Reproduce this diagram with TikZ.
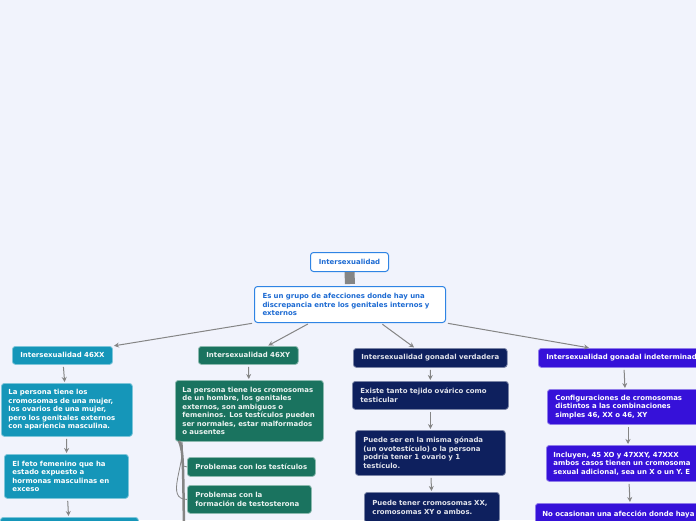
\documentclass[tikz,border=0pt]{standalone}
\usepackage{fontspec}
\setmainfont{DejaVu Sans}
\usetikzlibrary{arrows.meta,calc}
\definecolor{fondo}{HTML}{F1F3FC}
\definecolor{azulraiz}{HTML}{2F84E4}
\definecolor{textoraiz}{HTML}{1C6AD2}
\definecolor{colxx}{HTML}{1596B9}
\definecolor{colxy}{HTML}{1A735F}
\definecolor{colgv}{HTML}{0E205E}
\definecolor{colgi}{HTML}{3611D9}
\definecolor{flecha}{HTML}{858585}
\begin{document}
\begin{tikzpicture}[x=1pt, y=-1pt, >={Stealth[length=5pt,width=5pt]},
  caja/.style={anchor=north west, rounded corners=3pt, line width=0.8pt, inner xsep=8pt, inner ysep=3pt,
    align=left, font=\fontsize{6.95}{8.5}\selectfont\bfseries},
  raizbox/.style={caja, fill=white, draw=azulraiz, text=textoraiz, line width=1pt},
  xxbox/.style={caja, fill=colxx, draw=colxx!55!white, text=white},
  xybox/.style={caja, fill=colxy, draw=colxy!50!white, text=white!92!colxy},
  gvbox/.style={caja, fill=colgv, draw=colgv!55!white, text=white!88!colgv},
  gibox/.style={caja, fill=colgi, draw=colgi!55!white, text=white},
  arr/.style={->, draw=flecha, line width=1pt, shorten <=2pt, shorten >=1pt}]
	\useasboundingbox (0,0) rectangle (696,520);
	\fill[fondo] (0,0) rectangle (696,520);
	\clip (0,0) rectangle (696,520);
	% raiz
	\node[raizbox, align=center, minimum width=78, minimum height=19] (raiz) at (310,252) {Intersexualidad};
	\node[raizbox, text width=175, minimum height=36] (desc) at (254,286)
		{Es un grupo de afecciones donde hay una\\discrepancia entre los genitales internos y\\externos};
	\draw[flecha, line width=10pt] (raiz.south) -- ($(desc.north)+(0,-2)$);
	% ramas principales
	\node[xxbox, minimum height=18] (xx1) at (12,346) {Intersexualidad 46XX};
	\node[xybox, minimum height=18] (xy1) at (198,346) {Intersexualidad 46XY};
	\node[gvbox, minimum height=19] (gv1) at (353,348) {Intersexualidad gonadal verdadera};
	\node[gibox, minimum height=19] (gi1) at (538,348) {Intersexualidad gonadal indeterminada};
	\draw[arr] (desc.south west) -- (xx1.north east);
	\draw[arr] ($(desc.south west)!.29!(desc.south east)$) -- ($(xy1.north west)!.69!(xy1.north east)$);
	\draw[arr] ($(desc.south west)!.66!(desc.south east)$) -- ($(gv1.north west)!.4!(gv1.north east)$);
	\draw[arr] (desc.south east) -- ($(gi1.north west)+(52,0)$);
	% 46XX
	\node[xxbox, inner xsep=7pt, text width=117, minimum height=53] (xx2) at (1,383)
		{La persona tiene los\\cromosomas de una mujer,\\los ovarios de una mujer,\\pero los genitales externos\\con apariencia masculina.};
	\node[xxbox, text width=108, minimum height=44] (xx3) at (4,454)
		{El feto femenino que ha\\estado expuesto a\\hormonas masculinas en\\exceso};
	\node[xxbox, minimum width=138, minimum height=30] (xx4) at (0,517) {};
	\draw[arr] (xx1) -- (xx2);
	\draw[arr] (xx2) -- (xx3);
	\draw[arr] (xx3) -- (xx4);
	% 46XY
	\node[xybox, text width=134, inner xsep=7pt, minimum height=61] (xy2) at (175,380)
		{La persona tiene los cromosomas\\de un hombre, los genitales\\externos, son ambiguos o\\femeninos. Los testículos pueden\\ser normales, estar malformados\\o ausentes};
	\node[xybox, text width=112, minimum height=19] (t1) at (187,457) {Problemas con los testículos};
	\node[xybox, text width=108, minimum height=28] (t2) at (187,485) {Problemas con la\\formación de testosterona};
	\coordinate (xyfin) at (184,530);
	\draw[arr] (xy1) -- (xy2);
	\draw[flecha, line width=2.5pt] ($(xy2.south west)+(4,-1)$) .. controls (183,452) .. (xyfin);
	\draw[flecha, line width=0.8pt] ($(xy2.south west)+(6,0)$) to[out=-70, in=180] (t1.west);
	\draw[flecha, line width=0.8pt] ($(xy2.south west)+(7,0)$) to[out=-80, in=180] (t2.west);
	% gonadal verdadera
	\node[gvbox, text width=140, minimum height=28] (gv2) at (352,381) {Existe tanto tejido ovárico como\\testicular};
	\node[gvbox, text width=134, minimum height=45] (gv3) at (355,430)
		{Puede ser en la misma gónada\\(un ovotestículo) o la persona\\podría tener 1 ovario y 1\\testículo.};
	\node[gvbox, text width=119, minimum height=30] (gv4) at (364,492) {Puede tener cromosomas XX,\\cromosomas XY o ambos.};
	\draw[arr] (gv1) -- (gv2);
	\draw[arr] (gv2) -- (gv3);
	\draw[arr] (gv3) -- (gv4);
	% gonadal indeterminada
	\node[gibox, text width=150, minimum height=35] (gi2) at (547,389)
		{Configuraciones de cromosomas\\distintos a las combinaciones\\simples 46, XX o 46, XY};
	\node[gibox, inner xsep=7pt, text width=160, minimum height=36] (gi3) at (546,445)
		{Incluyen, 45 XO y 47XXY, 47XXX\\ambos casos tienen un cromosoma\\sexual adicional, sea un X o un Y. E};
	\node[gibox, inner xsep=7pt, text width=170, minimum height=30] (gi4) at (535,503)
		{No ocasionan una afección donde haya\\\mbox{}};
	\draw[arr] ($(gi1.south west)+(86,0)$) -- ($(gi2.north west)+(78,0)$);
	\draw[arr] ($(gi2.south west)+(81,0)$) -- ($(gi3.north west)+(82,0)$);
	\draw[arr] ($(gi3.south west)+(83,0)$) -- ($(gi4.north west)+(95,0)$);
\end{tikzpicture}
\end{document}
